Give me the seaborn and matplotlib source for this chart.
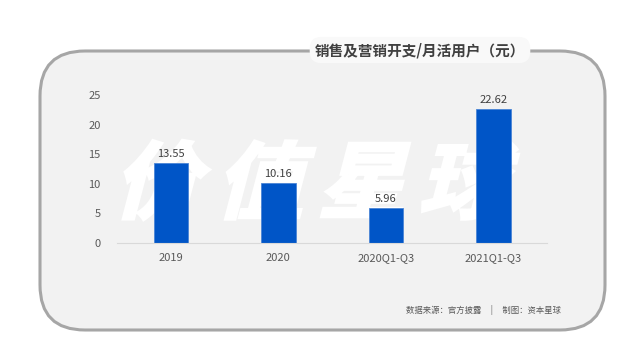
import matplotlib
matplotlib.use("Agg")
import matplotlib.pyplot as plt
from matplotlib.patches import FancyBboxPatch, PathPatch
from matplotlib.textpath import TextPath
from matplotlib.font_manager import FontProperties
from matplotlib.transforms import Affine2D
import seaborn as sns

categories = ["2019", "2020", "2020Q1-Q3", "2021Q1-Q3"]
values = [13.55, 10.16, 5.96, 22.62]
yticks = [0, 5, 10, 15, 20, 25]
title = "销售及营销开支/月活用户（元）"
source = "数据来源：官方披露     |     制图：资本星球"
watermark = "价值星球"

sns.set_style("white")
plt.rcParams["font.family"] = ["Noto Sans CJK SC", "DejaVu Sans"]

fig = plt.figure(figsize=(6.4, 3.6), dpi=100)
fig.patch.set_facecolor("white")

# background panel in pixel coordinates
bg = fig.add_axes([0, 0, 1, 1])
bg.set_xlim(0, 640)
bg.set_ylim(360, 0)
bg.axis("off")
panel = FancyBboxPatch((40, 51), 565, 279, boxstyle="round,pad=0,rounding_size=45",
                       facecolor="#f2f2f2", edgecolor="#a6a6a6", linewidth=2.2)
bg.add_patch(panel)

# slanted white watermark, one glyph at a time
fp = FontProperties(family="Noto Sans CJK SC", weight="bold")
for i, ch in enumerate(watermark):
    tp = TextPath((0, 0), ch, size=84, prop=fp)
    ext = tp.get_extents()
    cx, cy = (ext.x0 + ext.x1) / 2, (ext.y0 + ext.y1) / 2
    tr = (Affine2D().translate(-cx, -cy).skew_deg(14, 0).scale(1.05, -1)
          .translate(165 + i * 102, 180))
    bg.add_patch(PathPatch(tr.transform_path(tp), facecolor="white",
                           edgecolor="white", linewidth=2))

bg.text(420, 50, title, fontsize=10.5, fontweight="bold", color="#404040",
        ha="center", va="center",
        bbox=dict(boxstyle="round,pad=0.35,rounding_size=0.8", facecolor="#f9f9f9", edgecolor="none"))
bg.text(561, 310, source, fontsize=6, color="#595959", ha="right", va="center")

ax = fig.add_axes([0.183, 0.325, 0.672, 0.411])
ax.patch.set_alpha(0)
sns.barplot(x=categories, y=values, color="#0055c7", saturation=1, width=0.32,
            edgecolor="#4a85d6", linewidth=0.6, ax=ax)
ax.bar_label(ax.containers[0], labels=[f"{v:.2f}" for v in values],
             padding=3, fontsize=8, color="#404040")
ax.set_ylim(0, 25)
ax.set_xlim(-0.5, 3.5)
ax.set_yticks(yticks)
ax.tick_params(axis="both", length=0, labelsize=8, labelcolor="#595959")
ax.tick_params(axis="y", pad=12)
ax.tick_params(axis="x", pad=7)
for s in ["top", "right", "left"]:
    ax.spines[s].set_visible(False)
ax.spines["bottom"].set_color("#d9d9d9")
ax.spines["bottom"].set_linewidth(0.8)

fig.savefig("out.png", dpi=100)
